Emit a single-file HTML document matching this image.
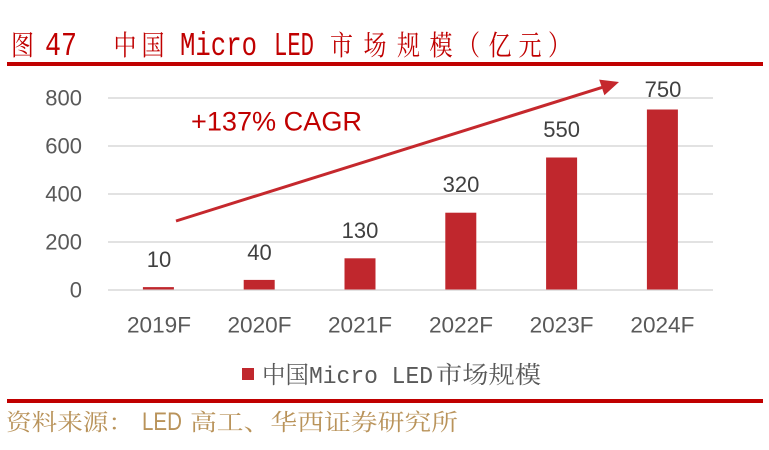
<!DOCTYPE html>
<html>
<head>
<meta charset="utf-8">
<style>
  html,body{margin:0;padding:0;background:#fff;}
  body{width:769px;height:450px;overflow:hidden;}
  svg{display:block;}
  .num{font-family:"Liberation Sans",sans-serif;}
  .mono{font-family:"Liberation Mono",monospace;}
  .cjk{font-family:"Liberation Serif","Noto Serif CJK SC",serif;}
</style>
</head>
<body>
<svg width="769" height="450" viewBox="0 0 769 450" xmlns="http://www.w3.org/2000/svg">
  <rect x="0" y="0" width="769" height="450" fill="#ffffff"/>

  <!-- Title -->
  <g fill="#C00000">
    <text class="cjk" x="11" y="55" font-size="28" textLength="23" lengthAdjust="spacingAndGlyphs">图</text>
    <text class="mono" x="45" y="55" font-size="33" textLength="32" lengthAdjust="spacingAndGlyphs">47</text>
    <text class="cjk" x="113.5" y="55" font-size="28" textLength="23" lengthAdjust="spacingAndGlyphs">中</text>
    <text class="cjk" x="141.5" y="55" font-size="28" textLength="23" lengthAdjust="spacingAndGlyphs">国</text>
    <text class="mono" x="180" y="55" font-size="33" textLength="77" lengthAdjust="spacingAndGlyphs">Micro</text>
    <text class="mono" x="274" y="55" font-size="33" textLength="40" lengthAdjust="spacingAndGlyphs">LED</text>
    <text class="cjk" x="330" y="55" font-size="28" textLength="23" lengthAdjust="spacingAndGlyphs">市</text>
    <text class="cjk" x="363.5" y="55" font-size="28" textLength="23" lengthAdjust="spacingAndGlyphs">场</text>
    <text class="cjk" x="397" y="55" font-size="28" textLength="23" lengthAdjust="spacingAndGlyphs">规</text>
    <text class="cjk" x="429.5" y="55" font-size="28" textLength="23" lengthAdjust="spacingAndGlyphs">模</text>
    <text class="cjk" x="457" y="55" font-size="28" textLength="23" lengthAdjust="spacingAndGlyphs">（</text>
    <text class="cjk" x="488.5" y="55" font-size="28" textLength="23" lengthAdjust="spacingAndGlyphs">亿</text>
    <text class="cjk" x="518.5" y="55" font-size="28" textLength="23" lengthAdjust="spacingAndGlyphs">元</text>
    <text class="cjk" x="548" y="55" font-size="28" textLength="23" lengthAdjust="spacingAndGlyphs">）</text>
  </g>
  <rect x="7" y="62" width="756" height="4" fill="#C00000"/>

  <!-- Gridlines -->
  <g stroke="#D9D9D9" stroke-width="1.5">
    <line x1="108" y1="98" x2="713" y2="98"/>
    <line x1="108" y1="146" x2="713" y2="146"/>
    <line x1="108" y1="194" x2="713" y2="194"/>
    <line x1="108" y1="242" x2="713" y2="242"/>
    <line x1="108" y1="290" x2="713" y2="290"/>
  </g>

  <!-- Y tick labels -->
  <g class="num" font-size="22" fill="#595959" text-anchor="end">
    <text x="82" y="105.5">800</text>
    <text x="82" y="153.5">600</text>
    <text x="82" y="201.5">400</text>
    <text x="82" y="249.5">200</text>
    <text x="82" y="297.5">0</text>
  </g>

  <!-- Bars -->
  <g fill="#C0272D">
    <rect x="142.9" y="287.1" width="31" height="2.4"/>
    <rect x="243.7" y="279.9" width="31" height="9.6"/>
    <rect x="344.5" y="258.3" width="31" height="31.2"/>
    <rect x="445.3" y="212.7" width="31" height="76.8"/>
    <rect x="546.1" y="157.5" width="31" height="132"/>
    <rect x="646.9" y="109.5" width="31" height="180"/>
  </g>

  <!-- Data labels -->
  <g class="num" font-size="22" fill="#404040" text-anchor="middle">
    <text x="159" y="267">10</text>
    <text x="259.5" y="260">40</text>
    <text x="360" y="238">130</text>
    <text x="461" y="192">320</text>
    <text x="561.6" y="137">550</text>
    <text x="663" y="97">750</text>
  </g>

  <!-- CAGR annotation -->
  <text class="num" x="191" y="130.5" font-size="27" fill="#C00000" textLength="171" lengthAdjust="spacingAndGlyphs">+137% CAGR</text>
  <line x1="176" y1="221" x2="602" y2="87.4" stroke="#C5282D" stroke-width="3"/>
  <polygon points="619,82 604.4,95.2 599.2,79.6" fill="#C5282D"/>

  <!-- X labels -->
  <g class="num" font-size="22" fill="#595959" text-anchor="middle">
    <text x="159" y="332.5" textLength="64" lengthAdjust="spacingAndGlyphs">2019F</text>
    <text x="259.5" y="332.5" textLength="64" lengthAdjust="spacingAndGlyphs">2020F</text>
    <text x="360" y="332.5" textLength="64" lengthAdjust="spacingAndGlyphs">2021F</text>
    <text x="461" y="332.5" textLength="64" lengthAdjust="spacingAndGlyphs">2022F</text>
    <text x="561.6" y="332.5" textLength="64" lengthAdjust="spacingAndGlyphs">2023F</text>
    <text x="662.4" y="332.5" textLength="64" lengthAdjust="spacingAndGlyphs">2024F</text>
  </g>

  <!-- Legend -->
  <rect x="242" y="368" width="12" height="12" fill="#C0272D"/>
  <g fill="#595959">
    <text class="cjk" x="262" y="383" font-size="24" textLength="47" lengthAdjust="spacingAndGlyphs">中国</text>
    <text class="mono" x="309" y="383" font-size="24" textLength="124" lengthAdjust="spacingAndGlyphs">Micro LED</text>
    <text class="cjk" x="436" y="383" font-size="24" textLength="105" lengthAdjust="spacingAndGlyphs">市场规模</text>
  </g>

  <!-- Bottom rule -->
  <rect x="7" y="399" width="756" height="4" fill="#C00000"/>

  <!-- Source -->
  <g fill="#B9935A">
    <text class="cjk" x="6" y="430" font-size="23" textLength="128" lengthAdjust="spacingAndGlyphs">资料来源：</text>
    <text class="num" x="142" y="430" font-size="25" textLength="40" lengthAdjust="spacingAndGlyphs">LED</text>
    <text class="cjk" x="190" y="430" font-size="23" textLength="268" lengthAdjust="spacingAndGlyphs">高工、华西证券研究所</text>
  </g>
</svg>
</body>
</html>
